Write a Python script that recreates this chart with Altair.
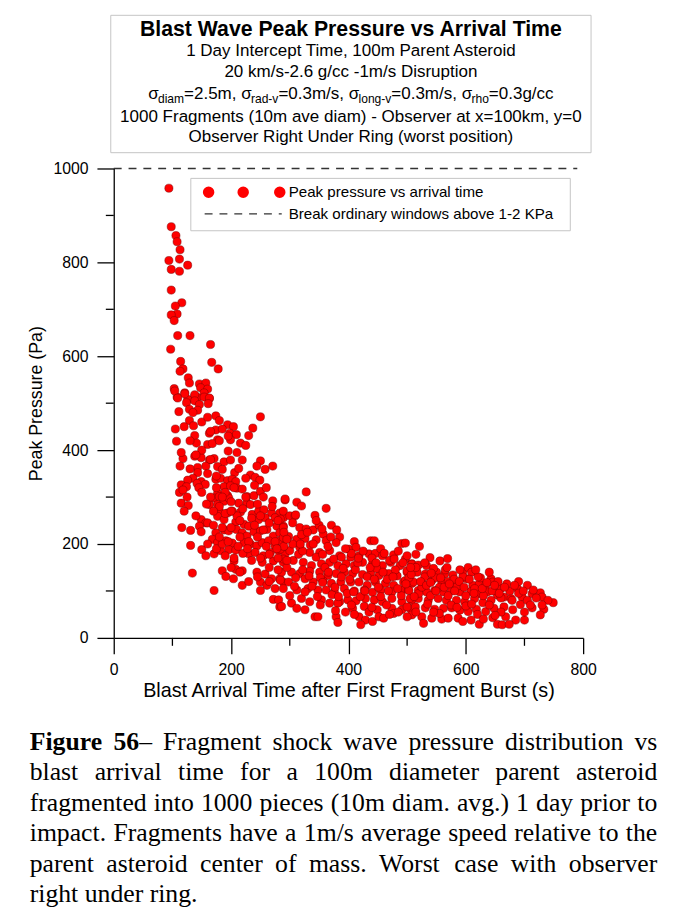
import altair as alt
import pandas as pd

# ---------------- data ----------------
arrival_time = [
 94,98,106,108,113,94,112,98,112,126,98,116,105,108,98,103,109,130,97,165,114,167,118,113,178,127,129,146,157,148,160,103,121,108,138,143,163,154,126,
 104,121,138,154,163,109,124,138,146,161,111,129,143,250,174,180,129,194,204,136,237,105,163,174,185,198,209,230,138,141,107,177,199,216,160,168,195,
 118,138,149,163,171,188,199,219,250,244,258,271,113,143,157,177,185,206,213,233,241,249,143,135,126,149,115,124,142,156,174,182,194,202,208,188,199,210,219,112,118,227,239,250,177,171,180,194,
 115,127,163,177,188,196,213,227,233,271,292,180,194,177,202,216,236,247,256,269,283,289,149,157,146,188,208,222,230,247,258,275,278,289,116,131,149,160,
 174,188,196,209,219,227,239,250,261,272,283,292,168,177,191,202,222,233,244,253,264,275,283,131,150,157,171,182,196,208,230,241,255,267,281,292,
 205,253,272,289,185,208,219,244,258,269,283,191,204,134,250,261,275,250,219,171,272,283,289,
 328,292,312,320,289,362,343,300,309,284,371,289,317,328,340,357,385,289,298,312,326,345,362,379,410,438,444,491,401,413,284,300,317,334,351,368,385,404,418,435,446,458,477,497,508,
 289,306,323,337,354,368,382,396,410,424,441,458,472,488,286,303,317,334,351,365,379,393,407,424,438,452,469,483,500,
 284,298,326,340,357,371,387,404,418,432,446,463,477,494,508,289,312,331,348,362,376,393,410,427,441,455,474,491,502,
 281,303,320,334,354,368,385,399,413,429,444,458,474,491,508,286,312,382,407,427,449,474,491,505,343,348,379,382,418,429,441,452,460,421,477,
 497,521,539,556,569,508,519,533,500,517,531,550,564,578,595,604,601,643,646,497,511,525,542,559,570,584,612,623,634,651,660,688,705,
 503,519,533,547,562,576,590,609,623,637,654,665,677,696,713,727,730,749,505,519,536,553,567,584,598,615,629,643,665,679,693,713,733,727,
 500,514,531,547,562,576,590,604,618,634,648,508,525,542,559,570,587,609,623,646,668,685,700,654,662,674,528,595,
 295,310,322,338,352,360,372,388,398,412,420,432,448,455,466,480,490,503,515,520,
 300,315,345,375,405,440,470,500,530,545,305,335,365,395,425,455,485,515,290,305,320,350,340,370,
 395,405,435,465,485,515,535,555,575,600,620,640,660,
 525,540,555,570,585,600,615,630,645,660,675,690,705,720,740,
 530,548,565,580,595,610,625,640,655,670,690,710,
 165,180,190,200,210,220,235,250,265,280,170,185,200,215,230,245,260,275,290,
 160,175,190,205,220,235,250,265,280,145,160,175,190,205,225,240,255,
 130,150,165,180,195,210,225,150,160,120,135,200,215,230,245,265,280,295,185,140,125,130,115,120,
 308,326,333,347,356,366,377,383,391,402,409,416,428,437,444,451,459,468,476,484,493,498,507,512,523,533,541,549,557,563,
 572,581,589,597,606,614,621,628,636,649,657,666,683,698,715,730,
 322,356,388,417,447,461,478,506,540,568,590,617,
 326,352,378,410,440,470,500,545,585,610,630,650,680,700,
 265,278,295,318,330,355,380,345,310,270,255,240,228,212,195,180,170,158,150,165,140,175,185,200,215,245,225,260,
]
peak_pressure = [
 958,876,857,844,827,804,807,785,781,794,741,714,707,690,688,676,644,644,615,625,589,587,573,568,573,554,543,541,543,533,530,531,522,513,515,512,510,522,508,
 526,520,518,513,511,511,501,505,497,499,482,487,485,471,473,463,463,454,450,452,447,445,436,443,445,436,433,431,431,415,419,422,422,415,412,414,398,
 382,387,384,379,382,375,379,379,377,366,359,366,366,363,366,365,359,352,361,347,342,336,352,340,336,333,326,322,329,327,338,340,335,338,333,322,324,319,317,310,315,301,303,312,308,298,301,303,
 287,282,284,284,291,298,287,287,284,292,294,270,266,259,270,268,263,270,273,266,266,256,252,245,238,252,247,242,238,252,256,256,238,238,235,229,226,245,
 224,230,228,231,224,217,226,228,231,217,224,210,210,203,207,202,203,200,196,203,207,196,207,197,188,175,179,186,188,187,179,182,175,182,186,179,
 164,161,164,161,143,146,143,140,136,126,126,131,126,138,119,112,105,101,112,101,82,66,119,
 311,296,289,281,270,276,261,260,260,253,240,235,235,232,230,221,215,214,216,210,212,209,207,203,205,207,207,201,189,193,189,186,193,182,182,186,175,172,175,179,180,175,177,168,158,
 168,165,161,154,158,161,154,158,154,161,158,154,161,154,140,140,137,142,140,133,137,140,137,135,139,133,137,132,140,
 123,119,126,119,121,116,119,119,119,112,119,116,112,119,116,105,102,105,102,102,98,105,100,102,97,102,98,102,102,
 81,74,84,77,81,74,77,81,79,84,81,77,84,77,81,67,63,74,63,67,60,63,60,63,45,45,45,33,45,38,35,45,42,28,52,
 202,195,171,164,169,157,155,154,143,140,136,140,136,134,141,150,126,126,119,122,119,117,122,119,120,115,112,115,112,106,106,105,112,
 101,101,98,101,98,101,98,99,94,98,91,87,84,87,94,96,87,75,84,84,80,84,80,80,77,84,75,80,66,80,71,64,61,49,
 66,66,64,61,63,64,59,56,61,56,63,49,45,42,40,42,42,38,29,43,45,38,38,29,28,29,31,35,
 150,128,145,110,128,150,92,130,95,145,88,130,148,88,125,145,90,128,150,95,
 90,178,172,168,180,170,165,175,160,148,200,198,195,190,185,190,185,178,225,245,220,240,200,215,
 55,70,55,70,55,55,72,52,70,68,50,70,55,
 108,90,108,90,110,90,105,90,100,85,100,95,80,85,80,
 130,128,145,125,130,140,128,140,120,115,120,70,
 300,280,265,290,260,275,255,260,245,250,240,235,235,215,205,215,195,205,195,
 200,190,175,170,180,165,170,150,145,320,350,345,310,320,340,325,300,
 420,400,440,420,430,395,410,460,470,450,480,150,140,120,130,120,170,165,200,260,300,360,395,270,
 110,98,132,88,118,140,108,88,148,125,98,160,100,150,125,108,140,100,130,105,160,115,135,88,120,112,138,100,128,108,
 115,100,120,108,125,95,130,105,118,112,95,108,112,100,102,70,
 185,178,172,170,160,180,168,150,118,150,145,145,
 60,70,58,50,65,50,45,55,65,72,40,48,60,55,
 178,190,210,200,225,232,230,250,262,280,230,240,190,195,205,215,270,285,310,380,390,320,300,270,250,285,300,320,
]

x_major = [0, 200, 400, 600, 800]
x_minor = [100, 300, 500, 700]
y_major = [0, 200, 400, 600, 800, 1000]
y_minor = [100, 300, 500, 700, 900]
break_level = [1000]
break_span = [0, 790]

title_main = "Blast Wave Peak Pressure vs Arrival Time"
title_lines = [
    "1 Day Intercept Time, 100m Parent Asteroid",
    "20 km/s-2.6 g/cc -1m/s Disruption",
    None,
    "1000 Fragments (10m ave diam) - Observer at x=100km, y=0",
    "Observer Right Under Ring (worst position)",
]
sigma_segments = [("σ", 0), ("diam", 1), ("=2.5m, σ", 0), ("rad-v", 1), ("=0.3m/s, σ", 0),
                  ("long-v", 1), ("=0.3m/s, σ", 0), ("rho", 1), ("=0.3g/cc", 0)]
legend_labels = ["Peak pressure vs arrival time", "Break ordinary windows above 1-2 KPa"]
x_title = "Blast Arrival Time after First Fragment Burst (s)"
y_title = "Peak Pressure (Pa)"
caption_lines = [
    [[("Figure", 1)], [("56", 1), ("–", 0)], [("Fragment", 0)], [("shock", 0)], [("wave", 0)],
     [("pressure", 0)], [("distribution", 0)], [("vs", 0)]],
    "blast arrival time for a 100m diameter parent asteroid",
    "fragmented into 1000 pieces (10m diam. avg.) 1 day prior to",
    "impact. Fragments have a 1m/s average speed relative to the",
    "parent asteroid center of mass. Worst case with observer",
    "right under ring.",
]

# ---------------- layout ----------------
SANS = "Liberation Sans"
SERIF = "Liberation Serif"
W = H = 475
PAD = {"left": 107, "top": 157, "right": 97, "bottom": 275}
ONE = alt.Data(values=[{"k": 0}])

ARIAL = {' ':278,'(':333,')':333,',':278,'-':333,'.':278,'/':278,'=':584,'σ':571,
         'a':556,'b':556,'c':500,'d':556,'e':556,'g':556,'h':556,'i':222,'l':222,'m':833,
         'n':556,'o':556,'r':333,'s':500,'v':500}
TIMES = {' ':250,'(':333,')':333,',':250,'-':333,'.':250,'/':278,'–':500,
         'A':722,'B':667,'C':667,'D':722,'E':611,'F':556,'G':722,'W':944,
         'a':444,'b':500,'c':444,'d':500,'e':444,'f':333,'g':500,'h':500,'i':278,'j':278,
         'k':500,'l':278,'m':778,'n':500,'o':500,'p':500,'q':500,'r':333,'s':389,'t':278,
         'u':500,'v':500,'w':722,'x':500,'y':500,'z':444}
TIMES_B = {'F':611,'i':278,'g':500,'u':556,'r':444,'e':444,' ':250}


def tw(s, size, table, digit=556):
    return sum(table.get(c, digit if c.isdigit() else 500) for c in s) * size / 1000.0


def text_layer(txt, x, y, size, font=SANS, weight="normal", align="left", baseline="alphabetic"):
    return alt.Chart(ONE).mark_text(text=txt, fontSize=size, font=font, fontWeight=weight,
                                    align=align, baseline=baseline, color="black").encode(
        x=alt.value(x), y=alt.value(y))


X_SCALE = alt.Scale(domain=[0, 800], nice=False, zero=False)
Y_SCALE = alt.Scale(domain=[0, 1000], nice=False, zero=False)
X_AXIS = alt.Axis(values=x_major, format="d", title=x_title, grid=False, domainColor="black", domainWidth=1.3,
                  tickColor="black", tickWidth=1.3, tickSize=16, labelFont=SANS, labelFontSize=16,
                  labelColor="black", labelPadding=8, labelFlush=False, titleFont=SANS,
                  titleFontSize=20, titleFontWeight="normal", titleColor="black", titlePadding=3)
Y_AXIS = alt.Axis(values=y_major, format="d", title=y_title, grid=False, domainColor="black", domainWidth=1.3,
                  tickColor="black", tickWidth=1.3, tickSize=17, labelFont=SANS, labelFontSize=16,
                  labelColor="black", labelPadding=9, labelFlush=False, titleFont=SANS,
                  titleFontSize=18, titleFontWeight="normal", titleColor="black", titlePadding=7)

df = pd.DataFrame({"t": arrival_time, "p": peak_pressure})

layers = []

# title box
layers.append(alt.Chart(ONE).mark_rect(fill="white", stroke="#c4c4c4", strokeWidth=1).encode(
    x=alt.value(-3), x2=alt.value(483), y=alt.value(-155), y2=alt.value(-16)))
CX = 240
layers.append(text_layer(title_main, CX, -134, 21.5, weight="bold", align="center"))
base_y = [-114, -93, -70.5, -47, -26.5]
for line, yy in zip(title_lines, base_y):
    if line is not None:
        layers.append(text_layer(line, CX, yy, 17.2, align="center"))
# sigma line with subscripts
MAIN, SUB = 17.2, 12.2
total = sum(tw(s, SUB if sub else MAIN, ARIAL) for s, sub in sigma_segments)
xx = CX - total / 2
for s, sub in sigma_segments:
    size = SUB if sub else MAIN
    layers.append(text_layer(s, xx, -70.5 + (4.5 if sub else 0), size))
    xx += tw(s, size, ARIAL)

# scatter (carries the axes)
scatter = alt.Chart(df).mark_point(shape="circle", filled=True, fill="#ff0000", stroke="#7a0000",
                                   strokeWidth=0.5, size=68, opacity=1).encode(
    x=alt.X("t:Q", scale=X_SCALE, axis=X_AXIS),
    y=alt.Y("p:Q", scale=Y_SCALE, axis=Y_AXIS),
)

# break line at 1000 Pa
brk = pd.DataFrame({"t": [break_span[0]], "t1": [break_span[1]], "p": break_level})
layers.append(alt.Chart(brk).mark_rule(color="#333333", strokeWidth=1.3, strokeDash=[8, 7]).encode(
    x=alt.X("t:Q", scale=X_SCALE, axis=X_AXIS), x2="t1:Q", y=alt.Y("p:Q", scale=Y_SCALE, axis=Y_AXIS)))

# minor ticks
layers.append(alt.Chart(pd.DataFrame({"t": x_minor})).mark_rule(color="black", strokeWidth=1.3).encode(
    x=alt.X("t:Q", scale=X_SCALE, axis=X_AXIS), y=alt.value(H), y2=alt.value(H + 8)))
layers.append(alt.Chart(pd.DataFrame({"p": y_minor})).mark_rule(color="black", strokeWidth=1.3).encode(
    y=alt.Y("p:Q", scale=Y_SCALE, axis=Y_AXIS), x=alt.value(0), x2=alt.value(-8)))

layers.append(scatter)

# legend
layers.append(alt.Chart(ONE).mark_rect(fill="white", stroke="#c4c4c4", strokeWidth=1).encode(
    x=alt.value(78), x2=alt.value(462), y=alt.value(10), y2=alt.value(63)))
for mx in [96, 131, 168]:
    layers.append(alt.Chart(ONE).mark_point(shape="circle", filled=True, color="#ff0000", size=135,
                                            opacity=1).encode(x=alt.value(mx), y=alt.value(24)))
layers.append(alt.Chart(ONE).mark_rule(color="#333333", strokeWidth=1.3, strokeDash=[8, 7]).encode(
    x=alt.value(92), x2=alt.value(170), y=alt.value(46)))
layers.append(text_layer(legend_labels[0], 177, 29, 15.3))
layers.append(text_layer(legend_labels[1], 177, 51, 15.3))

# caption (justified)
CAP = 26
LEFT, RIGHT = -85, 550
cap_base = [588.5, 619, 650, 681, 711.5, 742]
for i, (line, yy) in enumerate(zip(caption_lines, cap_base)):
    if isinstance(line, str):
        tokens = [[(w, 0)] for w in line.split(" ")]
    else:
        tokens = line
    widths = [sum(tw(t, CAP, TIMES_B if b else TIMES, 500) for t, b in tok) for tok in tokens]
    last = i == len(caption_lines) - 1
    gap = tw(" ", CAP, TIMES) if last else (RIGHT - LEFT - sum(widths)) / (len(tokens) - 1)
    x = LEFT
    for tok, wdt in zip(tokens, widths):
        px = x
        for t, b in tok:
            layers.append(text_layer(t, px, yy, CAP, font=SERIF, weight="bold" if b else "normal"))
            px += tw(t, CAP, TIMES_B if b else TIMES, 500)
        x += wdt + gap

chart = alt.layer(*layers).properties(
    width=W, height=H, padding=PAD, autosize=alt.AutoSizeParams(type="none"),
    background="white",
).configure_view(stroke=None)

chart.save("out.html", embed_options={"renderer": "svg", "actions": False})
